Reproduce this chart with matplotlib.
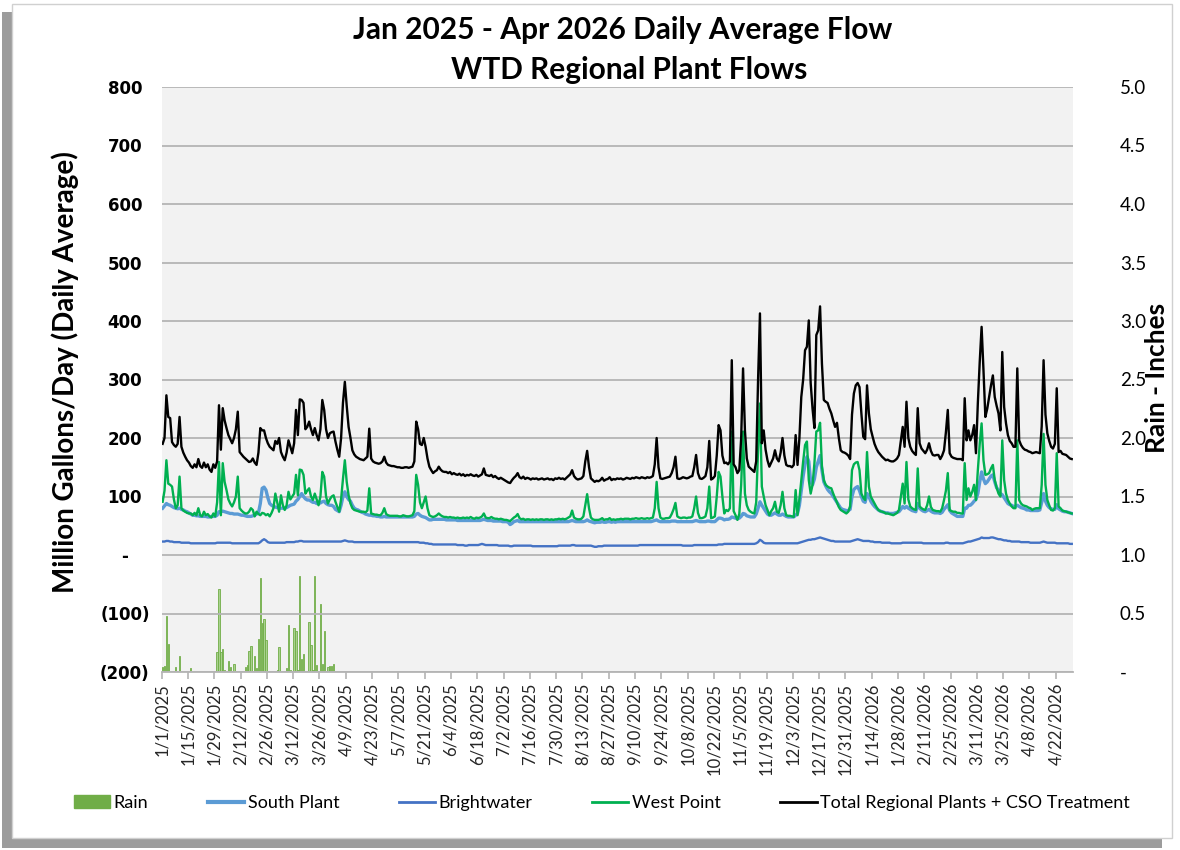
import numpy as np
import pandas as pd
import matplotlib
matplotlib.use("Agg")
import matplotlib.pyplot as plt
from matplotlib.patches import Rectangle, Patch
from matplotlib.lines import Line2D

# categories: one per day, 1/1/2025 .. 4/30/2026
dates = pd.date_range("2025-01-01", "2026-04-30", freq="D")
date_labels = [f"{d.month}/{d.day}/{d.year}" for d in dates]

# Total Regional Plants + CSO Treatment (MGD), one row per month
total_flow = [
    190, 200, 273, 236, 234, 193, 188, 185, 190, 236, 185, 175, 168, 162, 158, 152, 149, 155, 150, 164, 152, 149, 158, 150, 155, 146, 142, 155, 149, 160, 256,
    180, 251, 230, 217, 205, 198, 191, 200, 215, 245, 176, 172, 168, 165, 162, 159, 160, 165, 158, 154, 175, 217, 213, 213, 200, 191, 185, 182,
    179, 195, 190, 200, 176, 168, 162, 175, 196, 185, 174, 191, 248, 205, 266, 265, 260, 215, 219, 228, 215, 205, 217, 205, 196, 215, 265, 248, 215, 200, 208,
    210, 211, 194, 180, 168, 200, 260, 296, 255, 219, 200, 179, 172, 168, 166, 164, 163, 162, 165, 168, 216, 165, 160, 158, 157, 156, 157, 160, 168, 158,
    154, 153, 152, 152, 151, 150, 150, 149, 149, 150, 150, 149, 150, 151, 160, 228, 215, 190, 188, 200, 185, 165, 151, 145, 140, 143, 145, 151, 146, 143, 142,
    142, 140, 142, 138, 140, 138, 137, 139, 136, 138, 135, 137, 136, 138, 136, 135, 137, 134, 136, 138, 148, 137, 136, 135, 137, 133, 135, 132, 130, 132,
    130, 128, 126, 124, 123, 128, 132, 135, 140, 133, 131, 134, 130, 132, 131, 129, 131, 130, 131, 129, 130, 131, 129, 130, 131, 129, 130, 128, 131, 130, 132,
    130, 131, 129, 132, 135, 138, 145, 135, 131, 129, 130, 131, 135, 160, 178, 150, 131, 128, 125, 127, 126, 128, 132, 127, 129, 130, 133, 128, 130, 129, 131,
    130, 131, 129, 130, 132, 131, 130, 132, 131, 133, 132, 131, 133, 132, 131, 133, 132, 133, 135, 155, 200, 150, 131, 130, 131, 132, 133, 134, 140, 150,
    168, 131, 130, 131, 133, 132, 131, 132, 134, 135, 150, 171, 140, 131, 130, 132, 135, 150, 195, 129, 131, 135, 170, 222, 213, 170, 157, 158, 155, 160, 333,
    155, 150, 140, 145, 200, 319, 213, 165, 151, 148, 145, 142, 160, 300, 413, 191, 213, 180, 162, 151, 158, 165, 179, 165, 160, 175, 200, 170, 154, 152,
    152, 150, 154, 205, 154, 200, 270, 300, 350, 356, 401, 294, 250, 217, 376, 384, 425, 327, 265, 262, 260, 250, 242, 230, 219, 226, 200, 179, 176, 175, 173,
    170, 164, 240, 276, 290, 294, 287, 242, 202, 198, 290, 242, 215, 202, 190, 182, 176, 172, 168, 165, 162, 163, 161, 160, 160, 162, 165, 171, 195, 219, 185,
    262, 200, 185, 178, 174, 171, 251, 191, 182, 178, 174, 180, 191, 178, 171, 170, 171, 171, 164, 170, 179, 210, 248, 174, 168, 166, 165, 164,
    164, 164, 162, 268, 196, 213, 196, 205, 222, 174, 260, 330, 390, 316, 236, 250, 270, 290, 307, 270, 255, 242, 213, 347, 253, 225, 205, 195, 191, 185, 185,
    319, 196, 188, 183, 180, 179, 177, 176, 174, 175, 176, 175, 174, 220, 333, 240, 208, 195, 185, 182, 190, 285, 176, 178, 173, 172, 171, 168, 165, 164,
]

west_point = [
    91, 110, 162, 122, 120, 117, 95, 80, 85, 134, 80, 76, 74, 72, 71, 71, 68, 72, 68, 80, 68, 66, 74, 68, 70, 66, 64, 71, 66, 90, 159,
    68, 157, 125, 111, 95, 88, 83, 90, 100, 134, 80, 76, 73, 71, 71, 74, 80, 77, 66, 74, 70, 68, 72, 71, 68, 70, 66, 72,
    80, 105, 90, 74, 102, 85, 77, 85, 108, 95, 100, 105, 137, 102, 146, 145, 137, 105, 110, 114, 100, 94, 105, 95, 85, 100, 142, 134, 100, 88, 95,
    100, 102, 91, 82, 74, 95, 130, 162, 125, 102, 88, 80, 77, 76, 75, 74, 74, 74, 73, 76, 114, 71, 70, 69, 69, 68, 68, 72, 80, 70,
    68, 67, 67, 67, 67, 67, 66, 66, 68, 67, 66, 66, 67, 68, 75, 137, 120, 90, 80, 90, 100, 80, 68, 66, 65, 66, 68, 71, 68, 66, 65,
    65, 64, 65, 64, 64, 63, 64, 63, 63, 64, 63, 64, 63, 65, 63, 62, 64, 63, 64, 66, 71, 64, 63, 63, 65, 63, 62, 62, 61, 62,
    61, 60, 60, 59, 58, 61, 64, 66, 70, 63, 61, 62, 60, 61, 61, 60, 61, 60, 61, 60, 61, 61, 60, 61, 61, 60, 61, 60, 61, 61, 62,
    61, 62, 61, 62, 64, 66, 76, 64, 62, 61, 61, 62, 66, 85, 104, 80, 64, 61, 60, 60, 60, 61, 63, 60, 61, 61, 63, 60, 61, 60, 61,
    61, 62, 61, 62, 62, 62, 61, 62, 62, 63, 62, 62, 63, 62, 62, 63, 62, 63, 64, 80, 125, 80, 64, 62, 62, 63, 63, 64, 70, 78,
    89, 66, 64, 63, 64, 64, 63, 64, 64, 66, 80, 100, 72, 63, 63, 64, 66, 80, 117, 63, 64, 66, 100, 142, 134, 100, 71, 77, 75, 80, 211,
    75, 68, 60, 70, 120, 211, 105, 85, 77, 74, 72, 71, 90, 180, 259, 117, 100, 85, 77, 68, 75, 80, 91, 74, 72, 85, 108, 80, 68, 67,
    67, 66, 65, 111, 68, 95, 128, 160, 188, 194, 128, 105, 120, 157, 211, 213, 226, 151, 128, 120, 117, 115, 114, 105, 97, 90, 82, 77, 75, 73, 71,
    74, 83, 145, 155, 158, 159, 145, 105, 98, 94, 176, 117, 100, 94, 88, 82, 77, 75, 74, 73, 71, 71, 70, 69, 68, 70, 72, 77, 100, 122, 88,
    159, 95, 83, 80, 78, 77, 148, 83, 80, 78, 77, 85, 100, 82, 77, 76, 75, 75, 74, 80, 94, 110, 140, 77, 75, 74, 74, 72,
    72, 71, 71, 157, 94, 114, 100, 108, 120, 94, 145, 190, 225, 162, 137, 138, 140, 148, 154, 128, 115, 105, 100, 196, 128, 105, 94, 88, 83, 80, 80,
    196, 94, 88, 85, 84, 83, 81, 80, 77, 79, 80, 80, 80, 120, 207, 120, 94, 85, 77, 76, 80, 174, 83, 80, 76, 75, 74, 73, 72, 71,
]

south_plant = [
    80, 84, 88, 86, 85, 83, 81, 80, 79, 80, 78, 77, 75, 74, 72, 70, 68, 68, 67, 67, 66, 66, 66, 66, 65, 65, 66, 66, 66, 68, 74,
    74, 75, 74, 73, 72, 71, 71, 70, 70, 70, 69, 68, 68, 67, 66, 66, 66, 67, 68, 70, 72, 88, 114, 116, 111, 98, 88, 85,
    83, 82, 81, 80, 80, 80, 80, 81, 83, 85, 86, 87, 92, 95, 100, 105, 100, 96, 94, 94, 92, 90, 90, 88, 88, 89, 91, 92, 88, 86, 85,
    85, 83, 78, 76, 74, 85, 100, 108, 100, 95, 92, 85, 80, 78, 77, 75, 73, 72, 70, 69, 68, 68, 67, 67, 66, 66, 65, 65, 66, 65,
    65, 65, 65, 65, 65, 65, 65, 65, 65, 65, 65, 65, 65, 65, 66, 70, 71, 68, 66, 65, 64, 62, 60, 60, 61, 61, 61, 61, 61, 61, 61,
    60, 60, 60, 60, 60, 60, 59, 59, 59, 59, 59, 59, 59, 59, 59, 59, 59, 59, 59, 60, 61, 60, 59, 59, 59, 58, 58, 58, 58, 58,
    57, 57, 57, 56, 52, 54, 57, 58, 59, 57, 57, 57, 57, 57, 57, 57, 57, 57, 57, 57, 57, 57, 57, 57, 57, 57, 57, 57, 57, 57, 57,
    57, 57, 57, 57, 57, 58, 59, 58, 57, 57, 57, 57, 57, 58, 60, 58, 57, 56, 55, 56, 56, 56, 57, 56, 56, 57, 57, 56, 57, 56, 57,
    57, 57, 57, 57, 57, 57, 57, 57, 57, 57, 57, 57, 57, 57, 57, 57, 57, 57, 58, 59, 60, 58, 57, 57, 57, 57, 57, 57, 58, 58,
    58, 57, 57, 57, 57, 57, 57, 57, 57, 57, 58, 59, 58, 57, 57, 57, 57, 58, 58, 57, 57, 57, 60, 63, 63, 62, 60, 61, 61, 62, 65,
    64, 63, 62, 63, 66, 71, 70, 67, 66, 65, 65, 65, 70, 80, 91, 85, 80, 75, 70, 68, 68, 70, 72, 70, 68, 68, 70, 68, 66, 65,
    65, 65, 65, 68, 71, 85, 110, 135, 155, 168, 160, 125, 120, 130, 150, 160, 170, 145, 125, 118, 112, 108, 105, 100, 95, 90, 85, 80, 78, 77, 76,
    76, 78, 100, 112, 115, 117, 110, 100, 92, 90, 105, 100, 92, 87, 83, 80, 77, 75, 74, 73, 72, 72, 71, 71, 71, 72, 73, 74, 78, 83, 80,
    83, 80, 78, 76, 75, 74, 88, 80, 77, 75, 74, 76, 78, 75, 73, 72, 72, 72, 71, 73, 78, 82, 86, 76, 72, 70, 68, 66,
    66, 66, 66, 80, 80, 85, 85, 88, 92, 95, 105, 125, 142, 130, 122, 125, 130, 135, 137, 125, 115, 111, 105, 103, 98, 93, 88, 86, 85, 83, 83,
    85, 83, 81, 80, 79, 77, 77, 76, 76, 76, 76, 76, 77, 90, 105, 92, 85, 81, 79, 78, 78, 86, 79, 77, 75, 74, 74, 73, 72, 71,
]

brightwater = [
    23, 23, 24, 24, 23, 23, 22, 22, 22, 22, 21, 21, 21, 21, 21, 20, 20, 20, 20, 20, 20, 20, 20, 20, 20, 20, 20, 20, 20, 21, 21,
    21, 21, 21, 21, 21, 21, 20, 20, 20, 20, 20, 20, 20, 20, 20, 20, 20, 20, 20, 20, 20, 22, 25, 27, 25, 22, 21, 21,
    21, 21, 21, 21, 21, 21, 21, 22, 22, 22, 22, 22, 23, 23, 24, 24, 23, 23, 23, 23, 23, 23, 23, 23, 23, 23, 23, 23, 23, 23, 23,
    23, 23, 23, 23, 23, 23, 24, 25, 24, 23, 23, 23, 22, 22, 22, 22, 22, 22, 22, 22, 22, 22, 22, 22, 22, 22, 22, 22, 22, 22,
    22, 22, 22, 22, 22, 22, 22, 22, 22, 22, 22, 22, 22, 22, 22, 22, 22, 21, 21, 21, 20, 20, 19, 19, 18, 18, 18, 18, 18, 18, 18,
    18, 18, 18, 18, 18, 18, 17, 17, 17, 17, 16, 16, 17, 17, 17, 17, 17, 17, 18, 19, 18, 17, 17, 17, 17, 17, 17, 17, 16, 16,
    16, 16, 16, 16, 15, 15, 16, 16, 16, 16, 16, 16, 16, 16, 16, 16, 15, 15, 15, 15, 15, 15, 15, 15, 15, 15, 15, 15, 15, 15, 16,
    16, 16, 16, 16, 16, 16, 17, 17, 16, 16, 16, 16, 16, 16, 16, 16, 16, 15, 14, 14, 15, 15, 15, 16, 16, 16, 16, 16, 16, 16, 16,
    16, 16, 16, 16, 16, 16, 16, 16, 16, 16, 16, 17, 17, 17, 17, 17, 17, 17, 17, 17, 17, 17, 17, 17, 17, 17, 17, 17, 17, 17,
    17, 17, 17, 17, 16, 16, 16, 16, 16, 16, 17, 17, 17, 17, 17, 17, 17, 17, 17, 17, 17, 17, 17, 18, 18, 18, 19, 19, 19, 19, 19,
    19, 19, 19, 19, 19, 19, 19, 19, 19, 19, 19, 19, 20, 22, 26, 24, 21, 20, 20, 20, 20, 20, 20, 20, 20, 20, 20, 20, 20, 20,
    20, 20, 20, 20, 20, 21, 22, 23, 24, 25, 26, 26, 27, 27, 28, 29, 30, 29, 28, 27, 26, 25, 24, 24, 23, 23, 23, 23, 23, 23, 23,
    23, 23, 24, 25, 26, 27, 26, 25, 24, 24, 24, 24, 23, 23, 22, 22, 22, 22, 21, 21, 21, 21, 21, 20, 20, 20, 20, 20, 20, 21, 21,
    21, 21, 21, 21, 21, 21, 21, 21, 21, 20, 20, 20, 20, 20, 20, 20, 20, 20, 20, 20, 20, 21, 21, 20, 20, 20, 20, 20,
    20, 20, 20, 21, 22, 23, 23, 24, 25, 26, 27, 28, 30, 29, 29, 29, 29, 30, 30, 29, 28, 27, 27, 26, 25, 25, 24, 24, 23, 23, 23,
    23, 23, 22, 22, 22, 22, 22, 21, 21, 21, 21, 21, 21, 22, 23, 22, 21, 21, 21, 21, 21, 20, 20, 20, 20, 20, 20, 20, 19, 19,
]

# daily rain (inches), 1/1/2025 .. 4/2/2025; no rain plotted after that
rain_early = [
    0.04, 0.05, 0.48, 0.24, 0, 0, 0.01, 0.04, 0, 0.14, 0.01, 0, 0, 0, 0, 0.03, 0, 0, 0, 0, 0, 0, 0, 0, 0, 0, 0, 0, 0, 0.17, 0.71,
    0.17, 0.20, 0.02, 0, 0.09, 0.04, 0, 0.07, 0, 0, 0, 0, 0, 0.04, 0.06, 0.18, 0.22, 0, 0.14, 0.03, 0.28, 0.80, 0.42, 0.45, 0.27, 0, 0, 0,
    0, 0, 0.02, 0.21, 0, 0, 0, 0.03, 0.40, 0.02, 0, 0.38, 0.35, 0.02, 0.82, 0.11, 0.15, 0, 0, 0.43, 0.23, 0.02, 0.82, 0.06, 0, 0.58, 0.07, 0.35, 0, 0.04, 0.05,
    0.05, 0.07,
]

n = len(dates)
assert len(total_flow) == n and len(west_point) == n
assert len(south_plant) == n and len(brightwater) == n
rain = np.zeros(n)
rain[:len(rain_early)] = rain_early
x = np.arange(n)

FONT = "Lato"

fig = plt.figure(figsize=(11.8, 8.5), dpi=100)

# drop-shadow frame round the chart
W, H = 1180.0, 850.0
fig.patches.append(Rectangle((2 / W, 2 / H), 1160 / W, 836 / H, transform=fig.transFigure,
                             facecolor="#9c9c9c", edgecolor="none", zorder=-20))
fig.patches.append(Rectangle((12 / W, 12 / H), 1160 / W, 834 / H, transform=fig.transFigure,
                             facecolor="white", edgecolor="#d0d0d0", linewidth=1, zorder=-10))

rect = [161.7 / W, 1 - 672 / H, 911 / W, 585 / H]
ax2 = fig.add_axes(rect)
ax = ax2.twinx()

# rain on the secondary axis, drawn underneath
ax2.set_facecolor("#f2f2f2")
ax2.bar(x, rain, width=0.7, color="#a9d18e", edgecolor="#70ad47", linewidth=0.6, zorder=2)
ax2.set_ylim(0, 5)
ax2.yaxis.tick_right()
ax2.set_yticks(np.arange(0, 5.01, 0.5))
ax2.set_yticklabels(["-"] + [f"{v:.1f}" for v in np.arange(0.5, 5.01, 0.5)],
                    fontsize=13.5, fontfamily=FONT)
ax2.tick_params(axis="y", length=0, pad=34)
for lbl in ax2.get_yticklabels():
    lbl.set_horizontalalignment("left")
fig.text(1157 / W, 1 - 378 / H, "Rain - Inches", rotation=90, ha="center", va="center",
         fontsize=19, fontweight="bold", fontfamily=FONT)

# flows on the primary axis (put on the left)
ax.yaxis.tick_left()
ax.set_zorder(ax2.get_zorder() + 1)
ax.patch.set_visible(False)
ax.set_ylim(-200, 800)
yt = np.arange(-200, 801, 100)
ax.set_yticks(yt)
ax.set_yticklabels([("-" if v == 0 else (f"({-v})" if v < 0 else str(v))) for v in yt],
                   fontsize=12, fontweight="bold", fontfamily="DejaVu Sans")
ax.tick_params(axis="y", length=0, pad=26.5)
for lbl in ax.get_yticklabels():
    lbl.set_horizontalalignment("center")
ax.grid(axis="y", color="#b4b4b4", linewidth=1.3)
ax.set_axisbelow(True)

ax.plot(x, south_plant, color="#5b9bd5", linewidth=2.4, zorder=3)
ax.plot(x, brightwater, color="#4472c4", linewidth=1.7, zorder=4)
ax.plot(x, west_point, color="#00b050", linewidth=1.7, zorder=5)
ax.plot(x, total_flow, color="black", linewidth=1.7, zorder=6)

fig.text(65 / W, 1 - 372 / H, "Million Gallons/Day (Daily Average)", rotation=90, ha="center",
         va="center", fontsize=20, fontweight="bold", fontfamily=FONT)

for a in (ax, ax2):
    for s in a.spines.values():
        s.set_visible(False)
ax2.spines["bottom"].set_visible(True)
ax2.spines["bottom"].set_color("#b4b4b4")
ax2.spines["bottom"].set_linewidth(1.3)

ticks = x[::14]
ax2.set_xlim(-0.5, n - 0.5)
ax2.set_xticks(ticks - 0.5)
ax2.set_xticklabels([date_labels[i] for i in ticks], rotation=90, fontsize=12,
                    fontfamily=FONT, color="#262626")
ax2.tick_params(axis="x", length=5, color="#b4b4b4", width=1.2, pad=3)

fig.text(623 / W, 1 - 30 / H, "Jan 2025 - Apr 2026 Daily Average Flow", ha="center", va="center",
         fontsize=21.5, fontweight="bold", fontfamily=FONT)
fig.text(629 / W, 1 - 70 / H, "WTD Regional Plant Flows", ha="center", va="center",
         fontsize=21.5, fontweight="bold", fontfamily=FONT)

handles = [
    Patch(facecolor="#70ad47", edgecolor="#70ad47"),
    Line2D([], [], color="#5b9bd5", linewidth=3),
    Line2D([], [], color="#4472c4", linewidth=2),
    Line2D([], [], color="#00b050", linewidth=2),
    Line2D([], [], color="black", linewidth=2),
]
labels = ["Rain", "South Plant", "Brightwater", "West Point", "Total Regional Plants + CSO Treatment"]
fig.legend(handles, labels, loc="center", bbox_to_anchor=(602 / W, 1 - 803 / H), ncol=5,
           frameon=False, handlelength=2.0, handletextpad=0.2, columnspacing=3.3,
           prop={"family": FONT, "size": 13})

fig.savefig("out.png", dpi=100)
